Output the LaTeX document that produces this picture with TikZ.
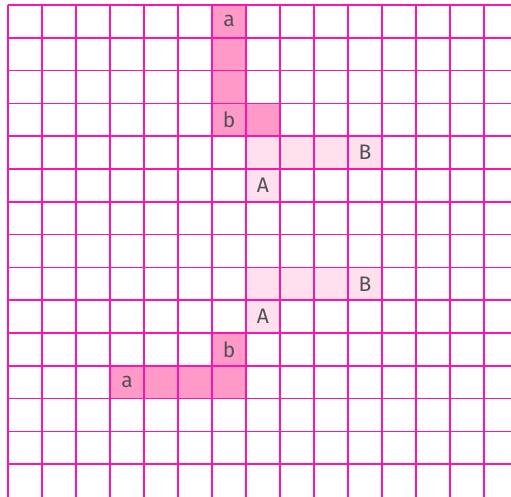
\documentclass[tikz,border=0pt]{standalone}
\usepackage{fontspec}
\setmainfont{Fira Sans}
\usepackage{tikz}
\usetikzlibrary{positioning}
\definecolor{gdLine}{RGB}{255,20,170}
\definecolor{gdDark}{RGB}{255,153,200}
\definecolor{gdLight}{RGB}{255,224,236}
\definecolor{gdText}{RGB}{80,80,90}
\tikzset{
  gridline/.style={gdLine, line width=1.6pt},
  letter/.style={gdText, font=\fontsize{21}{21}\selectfont, inner sep=0pt}
}

\begin{document}
\begin{tikzpicture}
  \useasboundingbox (0,0) rectangle (511pt,-497pt);
  \begin{scope}[shift={(8pt,-5pt)}, x=34pt, y=-32.8pt]
  % Dark cells (upper shape)
  \fill[gdDark] (6,0) rectangle (7,4);
  \fill[gdDark] (7,3) rectangle (8,4);
  % Light cells (upper shape)
  \fill[gdLight] (7,4) rectangle (11,5);
  \fill[gdLight] (7,5) rectangle (8,6);
  % Light cells (lower shape)
  \fill[gdLight] (7,8) rectangle (11,9);
  \fill[gdLight] (7,9) rectangle (8,10);
  % Dark cells (lower shape)
  \fill[gdDark] (6,10) rectangle (7,11);
  \fill[gdDark] (3,11) rectangle (7,12);

  % Grid
  \foreach \i in {0,...,14}
    \draw[gridline] (\i,0) -- (\i,15);
  \foreach \j in {0,...,14}
    \draw[gridline] (0,\j) -- (14.8,\j);

  % Letters
  \node[letter] (topa) at (6.5,0.5) {a};
  \node[letter] (topb) at (6.5,3.5) {b};
  \node[letter] (topB) at (10.5,4.5) {B};
  \node[letter] (topA) at (7.5,5.5) {A};
  \node[letter] (lowB) at (10.5,8.5) {B};
  \node[letter] (lowA) at (7.5,9.5) {A};
  \node[letter] (lowb) at (6.5,10.5) {b};
  \node[letter] (lowa) at (3.5,11.5) {a};
  \end{scope}
\end{tikzpicture}
\end{document}
